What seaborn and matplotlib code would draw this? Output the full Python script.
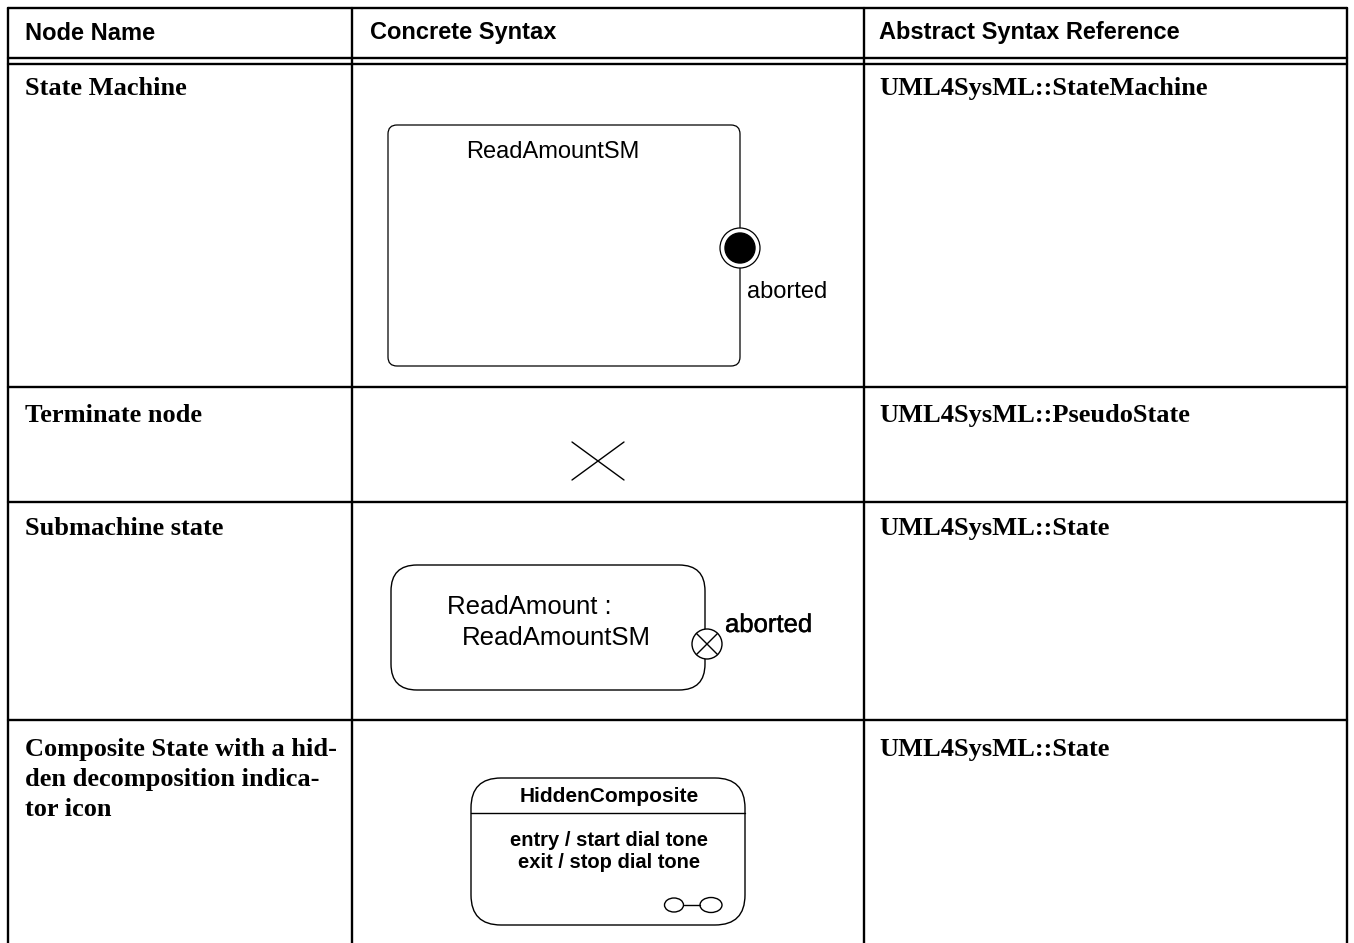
import numpy as np
import matplotlib.pyplot as plt
from matplotlib.patches import FancyBboxPatch, Circle, Ellipse
import matplotlib.patheffects as pe
import seaborn as sns

# table content
headers = ["Node Name", "Concrete Syntax", "Abstract Syntax Reference"]
node_names = ["State Machine", "Terminate node", "Submachine state",
              "Composite State with a hid-\nden decomposition indica-\ntor icon"]
abstract_refs = ["UML4SysML::StateMachine", "UML4SysML::PseudoState",
                 "UML4SysML::State", "UML4SysML::State"]
sm_name = "ReadAmountSM"
exit_label = "aborted"
submachine_label = ["ReadAmount :", "ReadAmountSM"]
composite_name = "HiddenComposite"
composite_body = ["entry / start dial tone", "exit / stop dial tone"]

sns.set_theme(style="white", rc={'text.color': 'black'})
plt.rcParams['font.family'] = ['Liberation Sans', 'DejaVu Sans']

W, H = 1354, 943
fig = plt.figure(figsize=(W / 100, H / 100), dpi=100)
ax = fig.add_axes([0, 0, 1, 1])
ax.set_xlim(0, W)
ax.set_ylim(H, 0)
ax.axis('off')

# grid geometry (pixels)
x_left, x_c1, x_c2, x_right = 8, 352, 864, 1347
y_top = 8
y_head = [58, 64]
row_tops = [64, 387, 502, 720]
lw = 1.7

ax.plot([x_left, x_right], [y_top, y_top], color='black', lw=lw)
for y in y_head:
    ax.plot([x_left, x_right], [y, y], color='black', lw=lw)
for y in row_tops[1:]:
    ax.plot([x_left, x_right], [y, y], color='black', lw=lw)
for x in [x_left, x_c1, x_c2, x_right]:
    ax.plot([x, x], [y_top, H], color='black', lw=lw)

# header
col_x = [25, 370, 879]
for x, h in zip(col_x, headers):
    ax.text(x, 33, h, fontsize=17, fontweight='bold', va='center', ha='left')

# left / right columns (serif bold)
serif = ['Liberation Serif', 'DejaVu Serif']
text_y = [87, 414, 527, 748]
for y, name, ref in zip(text_y, node_names, abstract_refs):
    ax.text(25, y - 10, name, family=serif, fontsize=19, fontweight='bold',
            va='top', ha='left', linespacing=1.4)
    ax.text(879, y - 10, ref, family=serif, fontsize=19, fontweight='bold',
            va='top', ha='left')

# row 1: state machine with exit point
ax.add_patch(FancyBboxPatch((388, 125), 352, 241,
                            boxstyle="round,pad=0,rounding_size=9",
                            fc='none', ec='black', lw=0.9))
ax.text(553, 152, sm_name, fontsize=17, ha='center', va='center')
ax.add_patch(Circle((740, 248), 20, fc='white', ec='black', lw=0.9, zorder=3))
ax.add_patch(Circle((740, 248), 15, fc='black', ec='black', zorder=4))
ax.text(747, 292, exit_label, fontsize=17, ha='left', va='center')

# row 2: terminate node
ax.plot([572, 624], [442, 480], color='black', lw=1.0)
ax.plot([572, 624], [480, 442], color='black', lw=1.0)

# row 3: submachine state
ax.add_patch(FancyBboxPatch((391, 565), 314, 125,
                            boxstyle="round,pad=0,rounding_size=26",
                            fc='none', ec='black', lw=1.0))
ax.text(447, 607, submachine_label[0], fontsize=18.5, ha='left', va='center')
ax.text(462, 638, submachine_label[1], fontsize=18.5, ha='left', va='center')
cx, cy, r = 707, 644, 15
ax.add_patch(Circle((cx, cy), r, fc='white', ec='black', lw=1.0, zorder=3))
d = r / np.sqrt(2)
ax.plot([cx - d, cx + d], [cy - d, cy + d], color='black', lw=1.0, zorder=4)
ax.plot([cx - d, cx + d], [cy + d, cy - d], color='black', lw=1.0, zorder=4)
ax.text(725, 625, exit_label, fontsize=18.5, ha='left', va='center',
        path_effects=[pe.withStroke(linewidth=0.3, foreground='black')])

# row 4: composite state with hidden decomposition icon
ax.add_patch(FancyBboxPatch((471, 778), 274, 147,
                            boxstyle="round,pad=0,rounding_size=30",
                            fc='none', ec='black', lw=1.0))
ax.plot([471, 745], [813, 813], color='black', lw=1.0)
ax.text(609, 797, composite_name, fontsize=15, fontweight='bold',
        ha='center', va='center')
ax.text(609, 841, composite_body[0], fontsize=14.5, fontweight='bold',
        ha='center', va='center')
ax.text(609, 862, composite_body[1], fontsize=14.5, fontweight='bold',
        ha='center', va='center')
ax.add_patch(Ellipse((674, 905), 19, 14, fc='none', ec='black', lw=1.0))
ax.add_patch(Ellipse((711, 905), 22, 15, fc='none', ec='black', lw=1.0))
ax.plot([683.5, 700], [905, 905], color='black', lw=1.0)

fig.savefig('out.png', dpi=100)
